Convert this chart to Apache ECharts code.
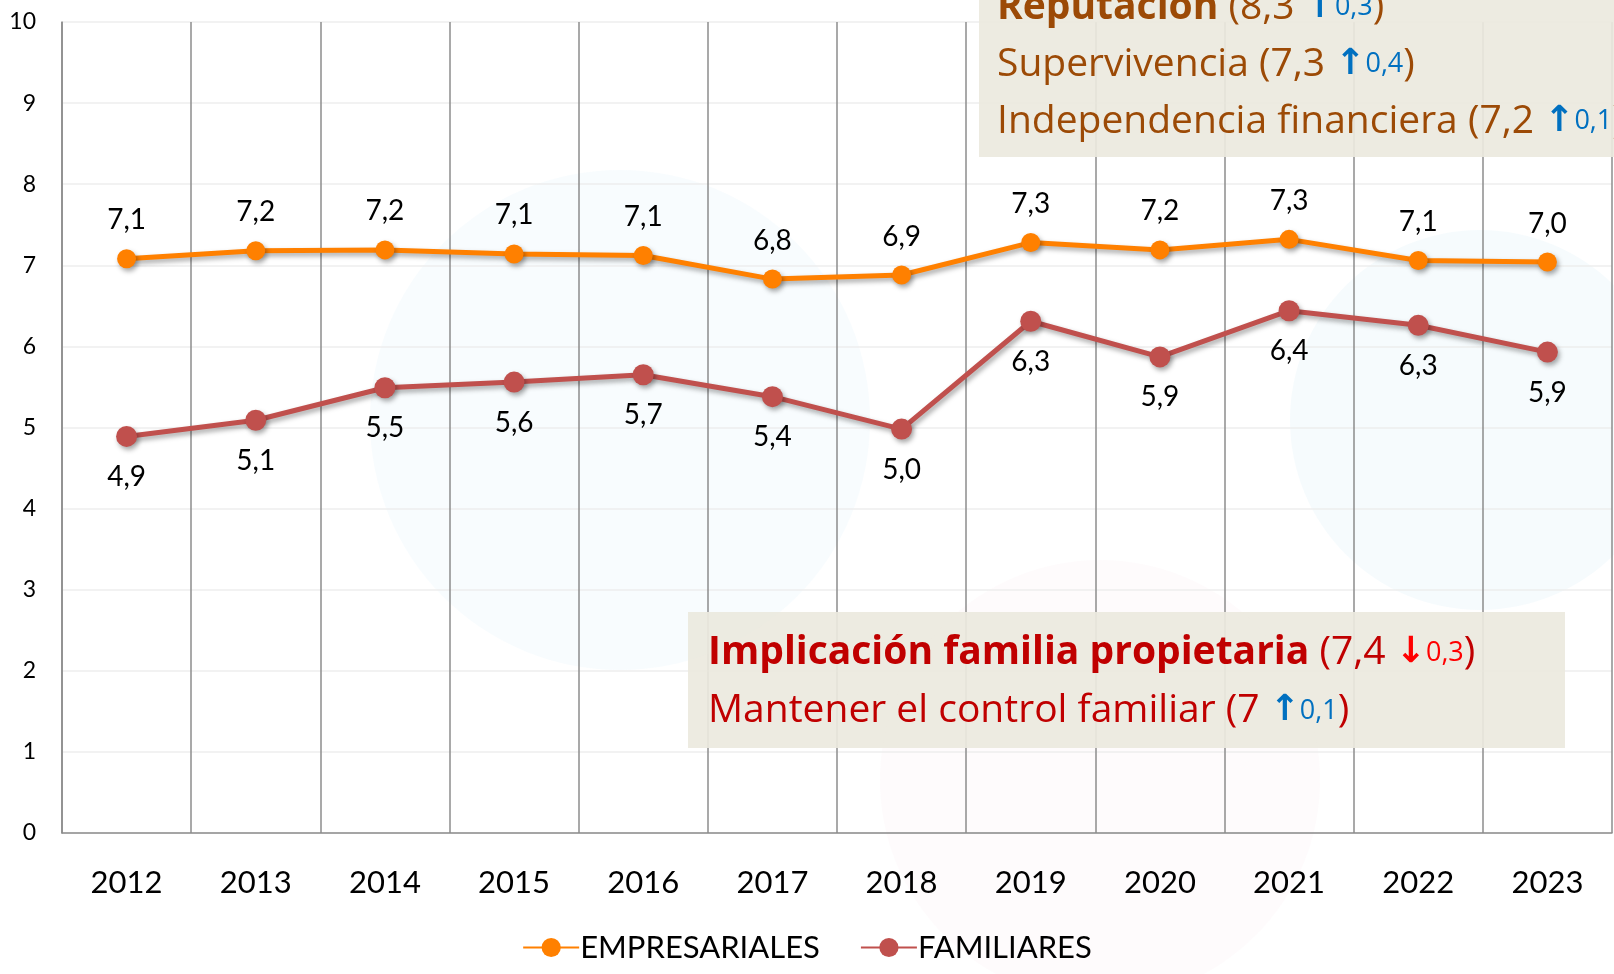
<!DOCTYPE html>
<html>
<head>
<meta charset="utf-8">
<script src="https://cdn.jsdelivr.net/npm/echarts@6/dist/echarts.min.js"></script>
<style>
  html, body { margin: 0; padding: 0; background: #fff; }
  #chart { width: 1614px; height: 974px; }
</style>
</head>
<body>
<div id="chart"></div>
<script>
// categorías y valores
const years = ['2012', '2013', '2014', '2015', '2016', '2017', '2018', '2019', '2020', '2021', '2022', '2023'];
const empresariales = [7.08, 7.18, 7.19, 7.14, 7.12, 6.83, 6.88, 7.28, 7.19, 7.32, 7.06, 7.04];
const familiares = [4.89, 5.09, 5.49, 5.56, 5.65, 5.38, 4.98, 6.31, 5.87, 6.44, 6.26, 5.93];
const yTicks = [0, 1, 2, 3, 4, 5, 6, 7, 8, 9, 10];

const font = 'Lato, "Open Sans", sans-serif';
const boxFont = '"Open Sans", sans-serif';
const fmt = p => (Math.round(p.value * 10) / 10).toFixed(1).replace('.', ',');

const chart = echarts.init(document.getElementById('chart'));

// textos de los recuadros
const brown = '#9C4A06';
const blue = '#0070C0';
const rich1 = {
  b: { fontFamily: boxFont, fontSize: 39, fontWeight: 'bold', fill: brown },
  n: { fontFamily: boxFont, fontSize: 39, fill: brown },
  ar: { fontFamily: 'DejaVu Sans', fontSize: 36, fontWeight: 'bold', fill: blue },
  s: { fontFamily: boxFont, fontSize: 27, fill: blue }
};
const red = '#C00000';
const rich2 = {
  b: { fontFamily: boxFont, fontSize: 39, fontWeight: 'bold', fill: red },
  n: { fontFamily: boxFont, fontSize: 39, fill: red },
  ard: { fontFamily: 'DejaVu Sans', fontSize: 36, fontWeight: 'bold', fill: '#FF0000' },
  sd: { fontFamily: boxFont, fontSize: 27, fill: '#FF0000' },
  ar: { fontFamily: 'DejaVu Sans', fontSize: 36, fontWeight: 'bold', fill: blue },
  s: { fontFamily: boxFont, fontSize: 27, fill: blue }
};

chart.setOption({
  animation: false,
  color: ['#FF8000', '#C0504D'],
  grid: { left: 62, right: 2, top: 22, bottom: 141 },
  legend: {
    bottom: 6,
    left: 'center',
    itemWidth: 56,
    itemHeight: 24,
    itemGap: 40,
    textStyle: { fontFamily: font, fontSize: 31, color: '#000', padding: [0, 0, 0, -4] },
    data: ['EMPRESARIALES', 'FAMILIARES']
  },
  xAxis: {
    type: 'category',
    data: years,
    axisLine: { lineStyle: { color: '#8c8c8c', width: 1.5 } },
    axisTick: { show: false },
    axisLabel: { fontFamily: font, fontSize: 31, color: '#000', margin: 34 },
    splitLine: { show: true, lineStyle: { color: '#8c8c8c', width: 1.5 } }
  },
  yAxis: {
    type: 'value',
    min: yTicks[0],
    max: yTicks[yTicks.length - 1],
    interval: 1,
    axisLine: { show: true, lineStyle: { color: '#8c8c8c', width: 1.5 } },
    axisTick: { show: false },
    axisLabel: { fontFamily: font, fontSize: 23, color: '#000', margin: 26 },
    splitLine: { lineStyle: { color: '#eeeeee', width: 1.5 } }
  },
  series: [
    {
      name: 'EMPRESARIALES',
      type: 'line',
      data: empresariales,
      symbol: 'circle',
      symbolSize: 19,
      lineStyle: { width: 5, shadowColor: 'rgba(0,0,0,0.35)', shadowBlur: 5, shadowOffsetX: 2, shadowOffsetY: 3 },
      itemStyle: { shadowColor: 'rgba(0,0,0,0.35)', shadowBlur: 5, shadowOffsetX: 2, shadowOffsetY: 3 },
      label: { show: true, position: 'top', distance: 15, formatter: fmt, fontFamily: font, fontSize: 28, color: '#000' },
      z: 3
    },
    {
      name: 'FAMILIARES',
      type: 'line',
      data: familiares,
      symbol: 'circle',
      symbolSize: 21,
      lineStyle: { width: 5, shadowColor: 'rgba(0,0,0,0.35)', shadowBlur: 5, shadowOffsetX: 2, shadowOffsetY: 3 },
      itemStyle: { shadowColor: 'rgba(0,0,0,0.35)', shadowBlur: 5, shadowOffsetX: 2, shadowOffsetY: 3 },
      label: { show: true, position: 'bottom', distance: 16, formatter: fmt, fontFamily: font, fontSize: 28, color: '#000' },
      z: 3
    }
  ],
  graphic: [
    // manchas de fondo
    { type: 'circle', z: -10, shape: { cx: 620, cy: 420, r: 250 }, style: { fill: 'rgba(214,236,248,0.18)' } },
    { type: 'circle', z: -10, shape: { cx: 1480, cy: 420, r: 190 }, style: { fill: 'rgba(214,236,248,0.22)' } },
    { type: 'circle', z: -10, shape: { cx: 1100, cy: 780, r: 220 }, style: { fill: 'rgba(250,228,232,0.15)' } },
    // recuadro superior
    { type: 'rect', z: 50, shape: { x: 979, y: 0, width: 640, height: 157 }, style: { fill: 'rgba(236,233,223,0.93)' } },
    {
      type: 'text', z: 51, left: 997, top: -21,
      style: {
        text: '{b|Reputación}{n| (8,3 }{ar|↑}{s|0,3}{n|)}\n{n|Supervivencia (7,3 }{ar|↑}{s|0,4}{n|)}\n{n|Independencia financiera (7,2 }{ar|↑}{s|0,1}{n|)}',
        rich: rich1,
        lineHeight: 57
      }
    },
    // recuadro inferior
    { type: 'rect', z: 50, shape: { x: 688, y: 612, width: 877, height: 136 }, style: { fill: 'rgba(236,233,223,0.93)' } },
    {
      type: 'text', z: 51, left: 708, top: 624,
      style: {
        text: '{b|Implicación familia propietaria}{n| (7,4 }{ard|↓}{sd|0,3}{n|)}\n{n|Mantener el control familiar (7 }{ar|↑}{s|0,1}{n|)}',
        rich: rich2,
        lineHeight: 58
      }
    }
  ]
});
</script>
</body>
</html>
